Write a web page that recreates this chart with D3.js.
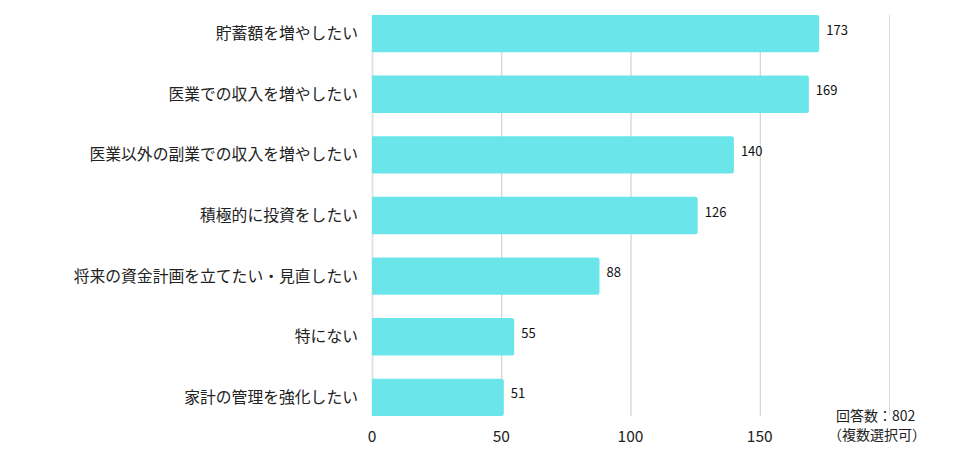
<!DOCTYPE html>
<html>
<head>
<meta charset="utf-8">
<script src="https://cdn.jsdelivr.net/npm/d3@7"></script>
<style>
  body { margin: 0; background: #fff; }
  text { font-family: "Noto Sans CJK JP", "Noto Sans", sans-serif; }
</style>
</head>
<body>
<div id="chart"></div>
<script>
// survey answers (multiple choice)
const categories = [
  '貯蓄額を増やしたい',
  '医業での収入を増やしたい',
  '医業以外の副業での収入を増やしたい',
  '積極的に投資をしたい',
  '将来の資金計画を立てたい・見直したい',
  '特にない',
  '家計の管理を強化したい'
];
const values = [173, 169, 140, 126, 88, 55, 51];
const xTicks = [0, 50, 100, 150, 200];
const xTickLabels = ['0', '50', '100', '150', ''];
const noteLines = ['回答数：802', '（複数選択可）'];

var svgWidth = 976, svgHeight = 459;
var plotLeft = 372, plotRight = 889, plotTop = 15, plotBottom = 416;

var svg = d3.select('#chart').append('svg')
  .attr('width', svgWidth)
  .attr('height', svgHeight);

const xscale = d3.scaleLinear().domain([0, 200]).range([plotLeft, plotRight]);
const yscale = d3.scaleBand().domain(categories).range([plotTop, plotBottom]).paddingInner(0.385).paddingOuter(0);

// gridlines
svg.append('g').selectAll('line')
  .data(xTicks)
  .join('line')
  .attr('x1', d => xscale(d) + 0.5)
  .attr('x2', d => xscale(d) + 0.5)
  .attr('y1', plotTop)
  .attr('y2', plotBottom)
  .attr('stroke', (d, i) => (i == 0 ? '#e4e4e4' : (d == 200 ? '#dcdcdc' : '#c8c8c8')))
  .attr('stroke-width', (d, i) => (i == 0 ? 2 : 1));

// tick labels
svg.append('g').selectAll('text')
  .data(xTicks)
  .join('text')
  .attr('x', d => xscale(d))
  .attr('y', 442)
  .attr('text-anchor', 'middle')
  .attr('font-size', 15.5)
  .attr('fill', '#222')
  .text((d, i) => xTickLabels[i]);

// bars
svg.append('g').selectAll('path')
  .data(values)
  .join('path')
  .attr('d', (d, i) => {
    var x0 = xscale(0), x1 = xscale(d), y0 = yscale(categories[i]), h = yscale.bandwidth(), r = 2.5;
    return `M${x0},${y0}H${x1 - r}Q${x1},${y0} ${x1},${y0 + r}V${y0 + h - r}Q${x1},${y0 + h} ${x1 - r},${y0 + h}H${x0}Z`;
  })
  .attr('fill', '#6ae6ea');

// value labels
svg.append('g').selectAll('text')
  .data(values)
  .join('text')
  .attr('x', d => xscale(d) + 7)
  .attr('y', (d, i) => yscale(categories[i]) + yscale.bandwidth() / 2 + 1)
  .attr('font-size', 13)
  .attr('fill', '#111')
  .text(d => d);

// category labels
svg.append('g').selectAll('text')
  .data(categories)
  .join('text')
  .attr('x', 358)
  .attr('y', d => yscale(d) + yscale.bandwidth() / 2 + 5.5)
  .attr('text-anchor', 'end')
  .attr('font-size', 15.8)
  .attr('fill', '#222')
  .text(d => d);

// note
svg.append('g').selectAll('text')
  .data(noteLines)
  .join('text')
  .attr('x', (d, i) => (i == 0 ? 836 : 828))
  .attr('y', (d, i) => 421 + i * 19)
  .attr('font-size', 14)
  .attr('fill', '#222')
  .text(d => d);
</script>
</body>
</html>
